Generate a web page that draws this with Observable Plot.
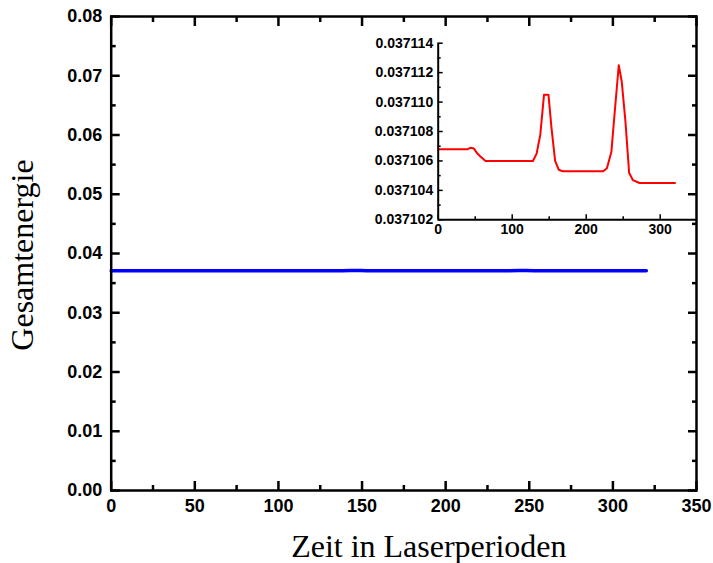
<!DOCTYPE html>
<html><head><meta charset="utf-8">
<script src="https://cdn.jsdelivr.net/npm/d3@7"></script>
<script src="https://cdn.jsdelivr.net/npm/@observablehq/plot@0.6"></script>
<style>
body{margin:0;background:#fff}
#wrap{position:relative;width:713px;height:563px;overflow:hidden}
#inset{position:absolute;left:357px;top:30px}
svg{display:block}
</style>
</head><body><div id="wrap"></div>
<script>
const time   = [0, 40, 44, 48, 53, 57, 64, 128, 133, 138, 143, 149, 153, 158, 163, 168, 223, 228, 234, 238, 244, 248, 253, 258, 263, 272, 320];
const energy = [0.0371068, 0.0371068, 0.0371069, 0.03710685, 0.0371065, 0.0371063, 0.037106, 0.037106, 0.0371065, 0.0371078, 0.0371105, 0.0371105, 0.0371083, 0.037106, 0.0371054, 0.0371053, 0.0371053, 0.0371055, 0.0371066, 0.037109, 0.0371125, 0.0371114, 0.0371087, 0.0371052, 0.0371047, 0.0371045, 0.0371045];

const mainXTicks = [0, 50, 100, 150, 200, 250, 300, 350];
const mainXMinor = [25, 75, 125, 175, 225, 275, 325];
const mainYTicks = [0, 0.01, 0.02, 0.03, 0.04, 0.05, 0.06, 0.07, 0.08];
const mainYMinor = [0.005, 0.015, 0.025, 0.035, 0.045, 0.055, 0.065, 0.075];
const insetXTicks = [0, 100, 200, 300];
const insetXMinor = [50, 150, 250];
const insetYTicks = [0.037102, 0.037104, 0.037106, 0.037108, 0.037110, 0.037112, 0.037114];
const insetYMinor = [0.037103, 0.037105, 0.037107, 0.037109, 0.037111, 0.037113];
const xTitle = "Zeit in Laserperioden";
const yTitle = "Gesamtenergie";

const data = time.map((t, i) => ({t, e: energy[i]}));

const sans = "Liberation Sans, Arial, sans-serif";
const serif = "Liberation Serif, Times New Roman, serif";

const main = Plot.plot({
  width: 713, height: 563,
  marginLeft: 110.7, marginRight: 17, marginTop: 16, marginBottom: 73,
  x: {domain: [0, 350]},
  y: {domain: [0, 0.08]},
  style: {background: "white", color: "black", overflow: "visible"},
  marks: [
    Plot.line(data, {x: "t", y: "e", stroke: "#0000ff", strokeWidth: 3.5}),
    Plot.frame({stroke: "black", strokeWidth: 2.5}),
    Plot.axisX(mainXTicks, {anchor: "bottom", tickSize: -9, strokeWidth: 2.5, text: null, label: null}),
    Plot.axisX(mainXMinor, {anchor: "bottom", tickSize: -5, strokeWidth: 2.5, text: null, label: null}),
    Plot.axisX(mainXTicks, {anchor: "top", tickSize: -9, strokeWidth: 2.5, text: null, label: null}),
    Plot.axisX(mainXMinor, {anchor: "top", tickSize: -5, strokeWidth: 2.5, text: null, label: null}),
    Plot.axisY(mainYTicks, {anchor: "left", tickSize: -9, strokeWidth: 2.5, text: null, label: null}),
    Plot.axisY(mainYMinor, {anchor: "left", tickSize: -5, strokeWidth: 2.5, text: null, label: null}),
    Plot.axisY(mainYTicks, {anchor: "right", tickSize: -9, strokeWidth: 2.5, text: null, label: null}),
    Plot.axisY(mainYMinor, {anchor: "right", tickSize: -5, strokeWidth: 2.5, text: null, label: null}),
    Plot.axisX(mainXTicks, {anchor: "bottom", tickSize: 0, tickPadding: 9, label: null,
      tickFormat: d => String(d), fontSize: 18, fontWeight: "bold", fontFamily: sans}),
    Plot.axisY(mainYTicks, {anchor: "left", tickSize: 0, tickPadding: 9, label: null,
      tickFormat: d => d.toFixed(2), fontSize: 18, fontWeight: "bold", fontFamily: sans}),
    Plot.text([xTitle], {frameAnchor: "bottom", textAnchor: "middle", dx: 25, dy: 66, lineAnchor: "bottom", text: d => d,
      fontSize: 32, fontFamily: serif, fill: "black"}),
    Plot.text([yTitle], {frameAnchor: "left", textAnchor: "middle", dx: -78.5, dy: 1.5, rotate: -90, lineAnchor: "bottom", text: d => d,
      fontSize: 32, fontFamily: serif, fill: "black"})
  ]
});

const inset = Plot.plot({
  width: 340, height: 216,
  marginLeft: 80.7, marginRight: 0.3, marginTop: 12.7, marginBottom: 26.7,
  x: {domain: [0, 350]},
  y: {domain: [0.037102, 0.037114]},
  style: {background: "transparent", color: "black", overflow: "visible"},
  marks: [
    Plot.line(data, {x: "t", y: "e", stroke: "#ff0000", strokeWidth: 2}),
    Plot.ruleX([0], {stroke: "black", strokeWidth: 2}),
    Plot.ruleY([0.037102], {stroke: "black", strokeWidth: 2}),
    Plot.axisX(insetXTicks, {anchor: "bottom", tickSize: -5, strokeWidth: 1.5, text: null, label: null}),
    Plot.axisX(insetXMinor, {anchor: "bottom", tickSize: -3, strokeWidth: 1.5, text: null, label: null}),
    Plot.axisY(insetYTicks, {anchor: "left", tickSize: -5, strokeWidth: 1.5, text: null, label: null}),
    Plot.axisY(insetYMinor, {anchor: "left", tickSize: -3, strokeWidth: 1.5, text: null, label: null}),
    Plot.axisX(insetXTicks, {anchor: "bottom", tickSize: 0, tickPadding: 4, label: null,
      tickFormat: d => String(d), fontSize: 14, fontWeight: "bold", fontFamily: sans}),
    Plot.axisY(insetYTicks, {anchor: "left", tickSize: 0, tickPadding: 5, label: null,
      tickFormat: d => d.toFixed(6), fontSize: 14, fontWeight: "bold", fontFamily: sans})
  ]
});
inset.id = "inset";

const wrap = document.getElementById("wrap");
wrap.appendChild(main);
wrap.appendChild(inset);
</script>
</body></html>
